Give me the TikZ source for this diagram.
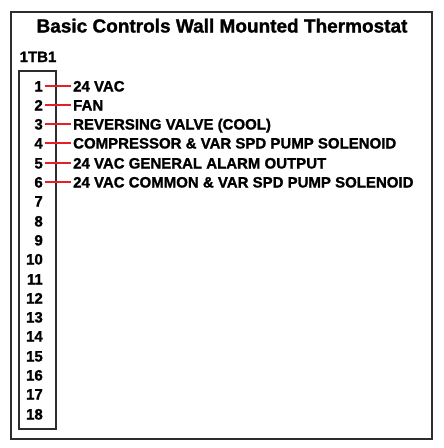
\documentclass[tikz,border=0pt]{standalone}
\usepackage{fontspec}
\setmainfont{Liberation Sans}
\newfontfamily\heavyfont[FakeBold=1.2]{Liberation Sans Bold}
\definecolor{wirered}{RGB}{230,30,40}
\definecolor{framegray}{RGB}{45,45,45}
\tikzset{
  frame/.style={draw=framegray, line width=2pt},
  num/.style={font=\heavyfont\fontsize{15}{15}\selectfont, anchor=east, inner sep=2pt, text height=11pt, text depth=0pt},
  lab/.style={font=\heavyfont\fontsize{15}{15}\selectfont, anchor=west, inner sep=2pt, text height=11pt, text depth=0pt},
  wire/.style={draw=wirered, line width=2.6pt}
}
\begin{document}
\begin{tikzpicture}[x=1pt,y=-1pt]
  \fill[white] (0,0) rectangle (444,448);
  \useasboundingbox (0,0) rectangle (444,448);
  \draw[frame] (11,12) rectangle (432,439);
  \draw[frame] (19,71) rectangle (56,429);
  \node[font=\heavyfont\fontsize{19}{19}\selectfont, anchor=base, inner sep=0pt] (title) at (222,32.5) {Basic Controls Wall Mounted Thermostat};
  \node[font=\heavyfont\fontsize{15}{15}\selectfont, anchor=base west, inner sep=0pt] (tb) at (19.5,62) {1TB1};
  \foreach \i in {1,...,18} {
    \node[num] (n\i) at (45,{round(85.5+(\i-1)*19.3)}) {\i};
  }
  \foreach \i/\t in {1/24 VAC, 2/FAN, 3/REVERSING VALVE (COOL), 4/COMPRESSOR \& VAR SPD PUMP SOLENOID, 5/24 VAC GENERAL ALARM OUTPUT, 6/24 VAC COMMON \& VAR SPD PUMP SOLENOID} {
    \node[lab] (l\i) at (71,{round(85.5+(\i-1)*19.3)}) {\t};
    \draw[wire] (n\i.east) -- (l\i.west);
  }
\end{tikzpicture}
\end{document}
